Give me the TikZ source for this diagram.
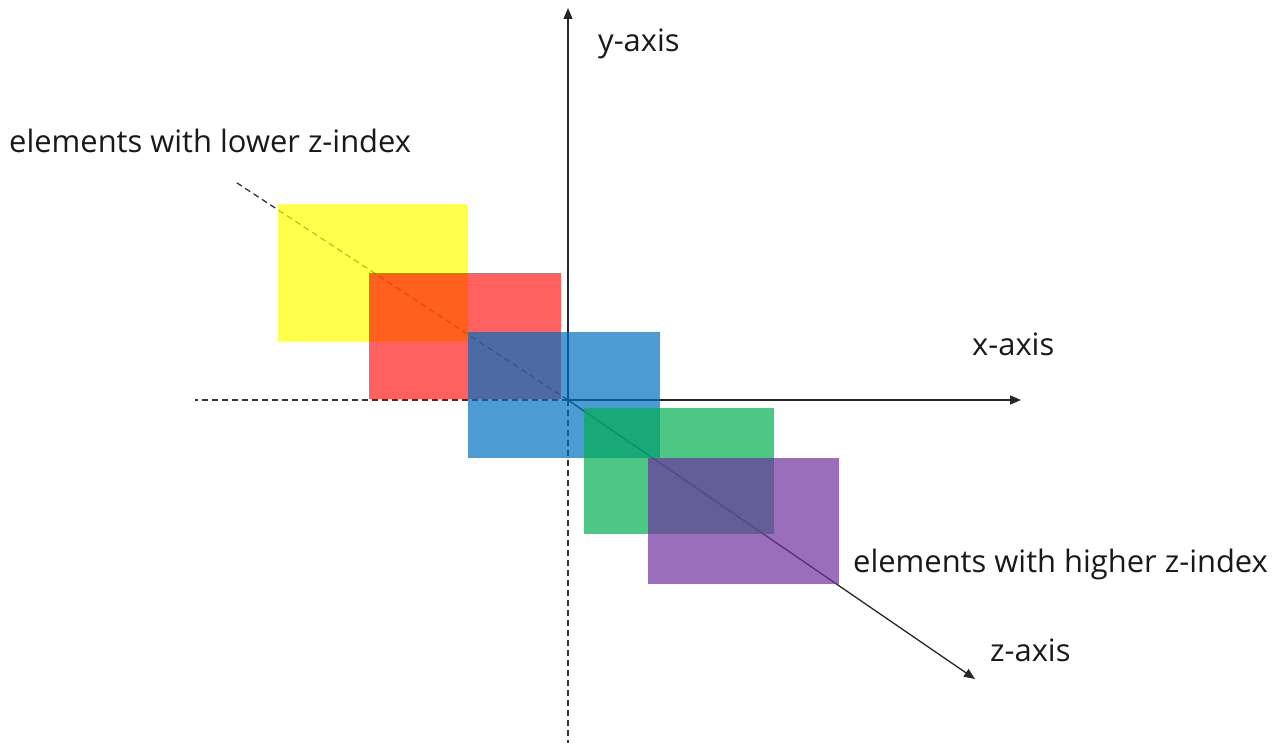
\documentclass[tikz,border=0pt]{standalone}
\usepackage{fontspec}
\setmainfont{Open Sans}
\usetikzlibrary{arrows.meta}
\definecolor{cyel}{RGB}{255,255,0}
\definecolor{cred}{RGB}{255,0,0}
\definecolor{cblue}{RGB}{0,112,192}
\definecolor{cgreen}{RGB}{0,176,80}
\definecolor{cpurple}{RGB}{112,48,160}
\tikzset{
  axis/.style={line width=1.3pt, black!85, -{Triangle[length=11pt,width=9pt]}},
  dashaxis/.style={line width=1.3pt, black!80, dash pattern=on 6pt off 4pt},
  plane/.style={fill opacity=0.7},
  lbl/.style={font=\fontsize{30.9}{36}\selectfont, anchor=base west, inner sep=0pt, text=black!90}
}
\begin{document}
\begin{tikzpicture}[x=1pt,y=-1pt]
\useasboundingbox (0,0) rectangle (1281,743);
\coordinate (O) at (568,400);
\coordinate (yTop) at (568,8);
\coordinate (yBot) at (568,743);
\coordinate (xStart) at (195,400);
\coordinate (xEnd) at (1021,400);
\coordinate (zStart) at (234,181);
\coordinate (zEnd) at (975,679);
% axes
\draw[dashaxis] (O) -- (yBot);
\draw[dashaxis] (O) -- (xStart);
\draw[dashaxis] (O) -- (zStart);
\draw[axis] (O) -- (yTop);
\draw[axis] (O) -- (xEnd);
\draw[axis] (O) -- (zEnd);
% planes
\fill[plane, cyel] (278,204) rectangle (468,341);
\fill[plane, cred, fill opacity=0.62] (369,273) rectangle (561,399);
\fill[plane, cblue] (468,332) rectangle (660,458);
\fill[plane, cgreen] (584,408) rectangle (774,534);
\fill[plane, cpurple] (648,458) rectangle (839,584);
% labels
\node[lbl] (ylab) at (598,52) {y-axis};
\node[lbl] (xlab) at (972,355) {x-axis};
\node[lbl] (zlab) at (990,661) {z-axis};
\node[lbl] (lower) at (9,153) {elements with lower z-index};
\node[lbl] (higher) at (853,572) {elements with higher z-index};
\end{tikzpicture}
\end{document}
